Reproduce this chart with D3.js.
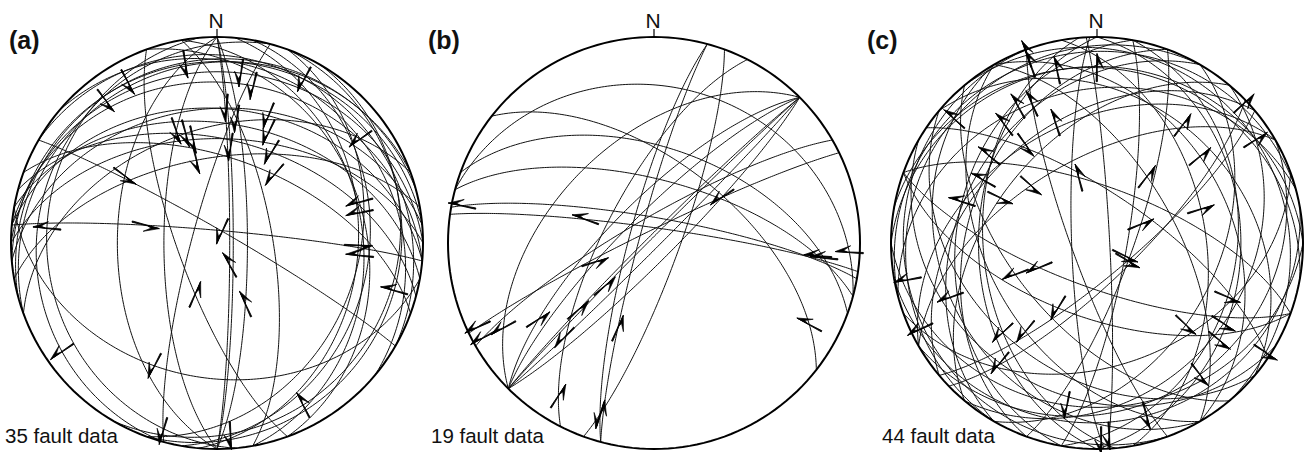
<!DOCTYPE html>
<html><head><meta charset="utf-8">
<script src="https://cdn.jsdelivr.net/npm/d3@7"></script>
<style>
body{margin:0;background:#fff}
svg{display:block}
text{font-family:"Liberation Sans",Arial,Helvetica,sans-serif;fill:#111}
</style>
</head><body>
<svg id="chart" width="1309" height="452"></svg>
<script>
// ---------------- data (fault plane dip direction / dip, slip trend, sense: +1 outward, -1 inward) -------------
const panelLabels = ["(a)", "(b)", "(c)"];
const countLabels = ["35 fault data", "19 fault data", "44 fault data"];
const northLabel = "N";

// panel (a)
const aDipDir = [340,345,355,270,0,350,270,5,0,5,30,355,80,90,5,10,15,20,40,70,30,265,250,285,190,285,90,90,95,110,110,120,100,340,80];
const aDip    = [14,12,13,69,48,56,50,85,18,23,11,35,68,83.6,35,41.5,48.5,56,15.5,29,85,18.5,74.5,13.8,34.7,80,85,78,32,32,12,14,27,44,30];
const aTrend  = [322,331,350,340,347,346,306,284,8,13,28,4,9,8,22,25,31,40,54,74,24,275,203,235,207,196,150,155,91,95,105,152,176,344,78];
const aSense  = [-1,-1,-1,-1,-1,-1,-1,-1,-1,-1,-1,-1,-1,-1,-1,-1,-1,-1,-1,-1,-1,1,-1,1,1,1,-1,-1,1,-1,-1,-1,1,-1,-1];

// panel (b)
const bDipDir = [10,8,135,15,15,20,38,334,330,315,315,315,315,315,135,297,285,110,285];
const bDip    = [80,84,83,65,25,52,58,85,80,49,73,87,78.3,88.2,88,70,80,80,84];
const bTrend  = [281,289,56,94.5,92.7,95,117.7,244.5,241,240.6,236.5,228.5,252,228.7,223.5,212,197.4,197.4,203];
const bSense  = [1,1,-1,-1,-1,-1,-1,1,1,1,-1,-1,-1,-1,1,-1,1,-1,-1];

// panel (c)
const cDipDir = [250,345,0,270,345,320,300,265,330,300,290,310,280,330,20,10,136,40,50,60,60,80,110,250,240,160,230,200,200,220,240,210,180,100,140,100,120,130,90,34,150,170,87,268];
const cDip    = [80,8,15.4,42,26.5,40,9.2,44,41,33.4,37.3,48,32.2,56.5,67.5,16.2,75,30,9.1,35.4,59,46.2,76,7.1,25.3,40,56.5,72.4,60.3,37.1,46,26.3,21.3,78.2,76.8,32.6,41.7,28.2,30.8,70,20.2,14,85,80];
const cTrend  = [339.6,339.6,347,330,335,341,311,322,324,309,299,295,287,311,344.5,0,46.5,36,57,50,37,72,67,259,249.7,244,249,247,211,226.5,219,219,190.5,115,120,112.5,132.7,122.5,128.5,123,142,164,176.4,178.8];
const cSense  = [1,1,1,1,1,1,1,1,-1,1,1,-1,1,-1,1,1,1,1,1,1,1,1,1,1,1,1,1,1,1,1,1,1,1,1,1,1,1,1,1,1,1,1,1,1];

// ---------------- drawing -------------
const svg = d3.select("#chart");
const R = 206;
const rad = Math.PI / 180;
const panels = [
  {cx: 217,  cy: 243, lx: 9,   tx: 5,   dd: aDipDir, dip: aDip, tr: aTrend, se: aSense},
  {cx: 654,  cy: 243, lx: 428, tx: 431, dd: bDipDir, dip: bDip, tr: bTrend, se: bSense},
  {cx: 1097, cy: 243, lx: 867, tx: 882, dd: cDipDir, dip: cDip, tr: cTrend, se: cSense}
];

panels.forEach((p, k) => {
  const proj = d3.geoAzimuthalEqualArea()
    .rotate([0, 90])
    .clipAngle(90)
    .scale(R / Math.SQRT2)
    .translate([p.cx, p.cy])
    .precision(0.2);
  const path = d3.geoPath(proj);
  const g = svg.append("g");

  // great circles (fault planes): circle of radius 90 deg around the pole
  p.dd.forEach((dd, i) => {
    const D = p.dip[i];
    const ring = d3.geoCircle().center([dd + 180, -(90 - D)]).radius(90).precision(1)().coordinates[0];
    g.append("path")
      .attr("d", path({type: "LineString", coordinates: ring}))
      .attr("fill", "none")
      .attr("stroke", "#111")
      .attr("stroke-width", 1);
  });

  // primitive circle
  g.append("path")
    .attr("d", path({type: "Sphere"}))
    .attr("fill", "none")
    .attr("stroke", "#000")
    .attr("stroke-width", 2);

  // north tick + label
  const top = proj([0, 0]);
  g.append("line").attr("x1", top[0]).attr("x2", top[0]).attr("y1", top[1] - 8).attr("y2", top[1])
    .attr("stroke", "#000").attr("stroke-width", 1.2);
  g.append("text").attr("x", top[0] - 1).attr("y", top[1] - 9).attr("text-anchor", "middle")
    .attr("font-size", 21).text(northLabel);

  // slip arrows (half arrows) at slip lineation
  p.dd.forEach((dd, i) => {
    const D = p.dip[i], T = p.tr[i], s = p.se[i];
    const P = Math.atan(Math.tan(D * rad) * Math.cos((T - dd) * rad)) / rad;
    const [x, y] = proj([T, -P]);
    const ux = Math.sin(T * rad) * s, uy = -Math.cos(T * rad) * s;
    const nx = -uy, ny = ux;
    const L = 28, hl = 15, hw = 6.5;
    const tx = x + ux * L / 2, ty = y + uy * L / 2;
    const bx = x - ux * L / 2, by = y - uy * L / 2;
    g.append("path")
      .attr("d", `M${bx + nx * 0.4},${by + ny * 0.4}L${tx},${ty}L${bx - nx * 0.9},${by - ny * 0.9}Z`)
      .attr("fill", "#000").attr("stroke", "#000").attr("stroke-width", 0.9);
    g.append("path")
      .attr("d", `M${tx},${ty}L${tx - ux * hl + nx * hw},${ty - uy * hl + ny * hw}L${tx - ux * hl * 0.55 + nx * 1.6},${ty - uy * hl * 0.55 + ny * 1.6}L${tx - ux * hl * 0.8},${ty - uy * hl * 0.8}Z`)
      .attr("fill", "#000").attr("stroke", "#000").attr("stroke-width", 0.7)
      .attr("stroke-linejoin", "miter");
  });

  svg.append("text").attr("x", p.lx).attr("y", 49).attr("font-size", 25).attr("font-weight", "bold")
    .text(panelLabels[k]);
  svg.append("text").attr("x", p.tx).attr("y", 443).attr("font-size", 20.5)
    .text(countLabels[k]);
});
</script>
</body></html>
